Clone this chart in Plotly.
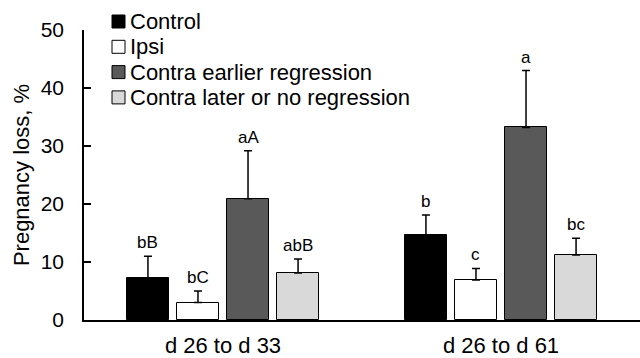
import numpy as np
import plotly.graph_objects as go

periods = ["d 26 to d 33", "d 26 to d 61"]
series = ["Control", "Ipsi", "Contra earlier regression", "Contra later or no regression"]
values = {
    "Control": [7.2, 14.6],
    "Ipsi": [3.0, 6.9],
    "Contra earlier regression": [20.9, 33.2],
    "Contra later or no regression": [8.1, 11.2],
}
errors = {
    "Control": [3.8, 3.5],
    "Ipsi": [2.0, 2.0],
    "Contra earlier regression": [8.3, 9.8],
    "Contra later or no regression": [2.4, 2.9],
}
letters = {
    "Control": ["bB", "b"],
    "Ipsi": ["bC", "c"],
    "Contra earlier regression": ["aA", "a"],
    "Contra later or no regression": ["abB", "bc"],
}
colors = ["#000000", "#ffffff", "#595959", "#d9d9d9"]

FONT = "Liberation Sans, Arial, sans-serif"
W, H = 640, 358
ML, MR, MT, MB = 84, 0, 30, 38
PW, PH = W - ML - MR, H - MT - MB

pitch = 0.18
bar_w = 0.148
base = np.arange(len(periods))

fig = go.Figure()
annotations = []
shapes = []
for i, s in enumerate(series):
    off = (i - (len(series) - 1) / 2) * pitch
    xs = base + off
    fig.add_trace(go.Bar(
        x=xs, y=values[s], width=bar_w, name=s, showlegend=False,
        marker=dict(color=colors[i], line=dict(color="black", width=1)),
        error_y=dict(type="data", array=errors[s], arrayminus=[0] * len(periods),
                     symmetric=False, color="black", thickness=1.5, width=4),
    ))
    for j in range(len(periods)):
        annotations.append(dict(
            x=xs[j], y=values[s][j] + errors[s][j], xref="x", yref="y",
            text=letters[s][j], showarrow=False, yanchor="bottom", yshift=2,
            font=dict(family=FONT, size=17, color="black"),
        ))

# legend drawn as swatches + text (compact spacing like the original)
def px_x(p):
    return (p - ML) / PW

def px_y(p):
    return (H - MB - p) / PH

leg_top, leg_step, sw = 21.5, 25.3, 13
for i, s in enumerate(series):
    cy = leg_top + i * leg_step
    shapes.append(dict(
        type="rect", xref="paper", yref="paper",
        x0=px_x(112), x1=px_x(112 + sw), y0=px_y(cy + sw / 2), y1=px_y(cy - sw / 2),
        fillcolor=colors[i], line=dict(color="black", width=1),
    ))
    annotations.append(dict(
        x=px_x(128), y=px_y(cy), xref="paper", yref="paper",
        text=s, showarrow=False, xanchor="left", yanchor="middle",
        font=dict(family=FONT, size=22, color="black"),
    ))

fig.update_layout(
    width=W, height=H,
    margin=dict(l=ML, r=MR, t=MT, b=MB),
    paper_bgcolor="white", plot_bgcolor="white",
    font=dict(family=FONT, size=21, color="black"),
    showlegend=False,
    annotations=annotations,
    shapes=shapes,
    bargap=0, bargroupgap=0,
)
fig.update_xaxes(
    range=[-0.5, 1.5], tickvals=list(base), ticktext=periods,
    showline=True, linecolor="black", linewidth=1.5, ticks="",
    ticklabelstandoff=5,
    showgrid=False, zeroline=False, tickfont=dict(size=22),
)
fig.update_yaxes(
    range=[0, 50], tickvals=[0, 10, 20, 30, 40, 50],
    showline=True, linecolor="black", linewidth=1.5,
    ticks="inside", ticklen=7, tickcolor="black", tickwidth=1.5,
    ticklabelstandoff=14,
    showgrid=False, zeroline=False, tickfont=dict(size=21),
    title=dict(text="Pregnancy loss, %", font=dict(size=22), standoff=5),
)
fig.write_html("out.html")
